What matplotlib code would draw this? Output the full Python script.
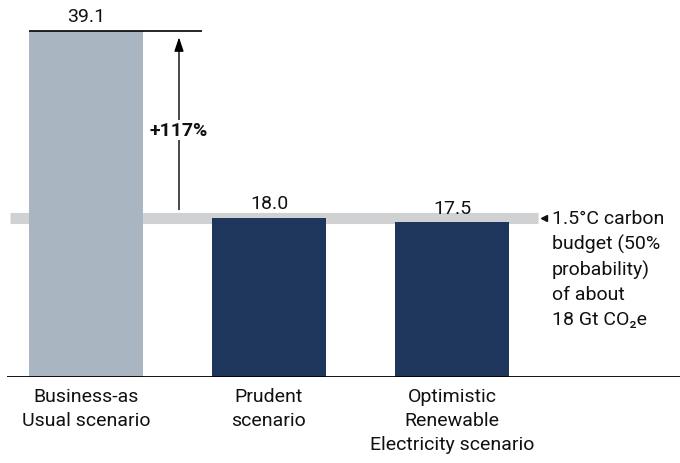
import matplotlib.pyplot as plt

plt.rcParams['font.family'] = ['Roboto', 'DejaVu Sans']

# data
scenarios = ['Business-as\nUsual scenario', 'Prudent\nscenario', 'Optimistic\nRenewable\nElectricity scenario']
emissions = [39.1, 18.0, 17.5]
value_labels = ['39.1', '18.0', '17.5']
budget = 18.0
increase_label = '+117%'
budget_note = '1.5°C carbon\nbudget (50%\nprobability)\nof about\n18 Gt CO₂e'

bar_colors = ['#a9b5c1', '#1f365c', '#1f365c']
band_color = '#d0d1d3'
fs = 14

fig = plt.figure(figsize=(6.8, 4.64), dpi=100)
ax = fig.add_axes([0, 86 / 464, 1, 378 / 464])

# pixel mapping: centre of first bar at 86px, spacing 183px
ax.set_xlim(-86 / 183, (680 - 86) / 183)
ax.set_ylim(0, 378 / 8.85)

# budget band (under bars)
ax.axhline(budget, xmin=10 / 680, xmax=538 / 680, color=band_color, lw=8,
           solid_capstyle='butt', zorder=1)

x = range(len(emissions))
bars = ax.bar(x, emissions, width=114 / 183, color=bar_colors, zorder=2)
ax.bar_label(bars, labels=value_labels, padding=4, fontsize=fs, color='#111111')

# baseline
ax.axhline(0, xmin=7 / 680, xmax=1, color='black', lw=1.3, solid_capstyle='butt', zorder=3)

# top reference line and arrow
x_left = -114 / 183 / 2
ax.plot([x_left, (202 - 86) / 183], [emissions[0], emissions[0]], color='black', lw=1.2,
        solid_capstyle='butt', zorder=3)
x_arrow = (179 - 86) / 183
ax.annotate('', xy=(x_arrow, emissions[0] - 0.4), xytext=(x_arrow, budget + 0.6),
            arrowprops=dict(arrowstyle='-|>,head_length=0.6,head_width=0.2', color='black',
                            lw=1, mutation_scale=14), zorder=3)
ax.text(x_arrow, 27.9, increase_label, ha='center', va='center', fontsize=fs,
        fontweight='bold', color='#111111', zorder=4,
        bbox=dict(facecolor='white', edgecolor='none', pad=1))

# budget note
ax.plot([(544 - 86) / 183], [budget], marker='<', color='#111111', markersize=5, zorder=3)
ax.text((552 - 86) / 183, budget + 0.95, budget_note, ha='left', va='top', fontsize=fs,
        color='#111111', linespacing=1.45)

# category labels
ax.set_xticks(list(x))
ax.set_xticklabels(scenarios, fontsize=fs, color='#111111')
for lab in ax.get_xticklabels():
    lab.set_linespacing(1.45)
ax.tick_params(axis='x', length=0, pad=7)
ax.set_yticks([])
for s in ax.spines.values():
    s.set_visible(False)

fig.savefig('out.png', dpi=100)
